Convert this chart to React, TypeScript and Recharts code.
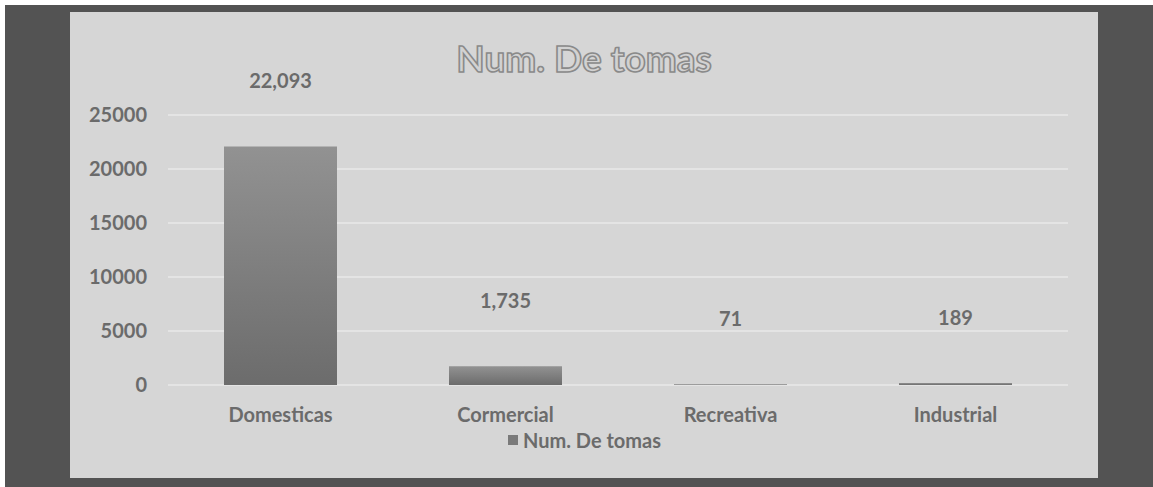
import { BarChart, Bar, XAxis, YAxis, CartesianGrid, Legend, LabelList } from 'recharts';

const categories = ['Domesticas', 'Cormercial', 'Recreativa', 'Industrial'];
const tomas = [22093, 1735, 71, 189];
const yTicks = [0, 5000, 10000, 15000, 20000, 25000];

const data = categories.map((name, i) => ({ name, tomas: tomas[i] }));

const FONT = 'Lato, "Open Sans", sans-serif';
const TEXT = '#6b6b6b';

const ValueLabel = (props: any) => {
  const { x, y, width, value } = props;
  return (
    <text
      x={x + width / 2}
      y={y - 66}
      textAnchor="middle"
      dominantBaseline="central"
      fontFamily={FONT}
      fontWeight={700}
      fontSize={20}
      fill={TEXT}
    >
      {Number(value).toLocaleString('en-US')}
    </text>
  );
};

const CategoryTick = (props: any) => {
  const { x, y, payload } = props;
  return (
    <text x={x} y={y + 37} textAnchor="middle" fontFamily={FONT} fontWeight={700} fontSize={20} fill={TEXT}>
      {payload.value}
    </text>
  );
};

const LegendBox = () => (
  <div style={{ display: 'flex', alignItems: 'center', fontFamily: FONT, fontWeight: 700, fontSize: 20, color: TEXT }}>
    <span style={{ display: 'inline-block', width: 10, height: 10, background: '#7a7a7a', marginRight: 5 }} />
    Num. De tomas
  </div>
);

export default function App() {
  return (
    <div style={{ position: 'absolute', left: 0, top: 0, width: 1153, height: 487, background: '#ffffff', overflow: 'hidden' }}>
      {/* dark frame round the chart */}
      <div style={{ position: 'absolute', left: 5, top: 5, width: 1148, height: 482, background: '#535353' }} />
      {/* chart area */}
      <div style={{ position: 'absolute', left: 70, top: 12, width: 1028, height: 466, background: '#d6d6d6' }} />

      <svg style={{ position: 'absolute', left: 0, top: 0 }} width={1153} height={487}>
        <text
          x={584}
          y={72}
          textAnchor="middle"
          fontFamily={FONT}
          fontWeight={700}
          fontSize={37}
          fill="#d2d2d2"
          stroke="#8a8a8a"
          strokeWidth={1.6}
        >
          Num. De tomas
        </text>
      </svg>

      <div style={{ position: 'absolute', left: 0, top: 0 }}>
        <BarChart
          width={1153}
          height={487}
          data={data}
          margin={{ top: 115, right: 85, bottom: 62, left: 88 }}
          barCategoryGap="25%"
        >
          <defs>
            <linearGradient id="barFill" x1="0" y1="0" x2="0" y2="1">
              <stop offset="0%" stopColor="#929292" />
              <stop offset="100%" stopColor="#6c6c6c" />
            </linearGradient>
          </defs>
          <CartesianGrid vertical={false} stroke="#f2f2f2" strokeWidth={1.2} />
          <XAxis
            dataKey="name"
            axisLine={false}
            tickLine={false}
            tickSize={0}
            tickMargin={0}
            height={40}
            tick={<CategoryTick />}
            interval={0}
          />
          <YAxis
            domain={[0, 25000]}
            ticks={yTicks}
            width={80}
            axisLine={false}
            tickLine={false}
            tickSize={0}
            tickMargin={21}
            tick={{ fontFamily: FONT, fontWeight: 700, fontSize: 20, fill: TEXT }}
          />
          <Legend
            layout="horizontal"
            verticalAlign="middle"
            align="center"
            wrapperStyle={{ left: 508, top: 428, width: 300 }}
            content={<LegendBox />}
          />
          <Bar dataKey="tomas" name="Num. De tomas" fill="url(#barFill)" barSize={113} isAnimationActive={false}>
            <LabelList dataKey="tomas" content={<ValueLabel />} />
          </Bar>
        </BarChart>
      </div>
    </div>
  );
}
